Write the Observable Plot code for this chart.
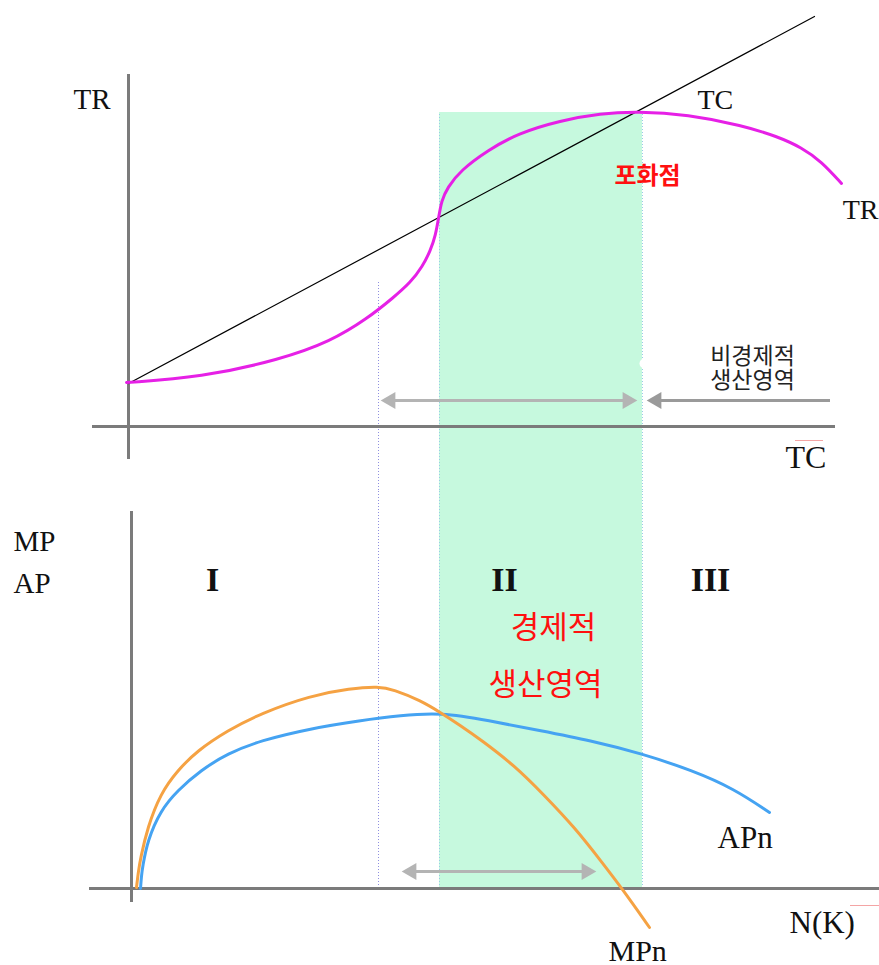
<!DOCTYPE html>
<html><head><meta charset="utf-8">
<script src="https://cdn.jsdelivr.net/npm/d3@7"></script>
<script src="https://cdn.jsdelivr.net/npm/@observablehq/plot@0.6"></script>
<style>body{margin:0;background:#fff}svg{display:block;background:#fff}</style>
</head><body><div id="chart"></div>
<script>
// ---- data (diagram units: N(K) on x; TR/TC or MP/AP on y) ----
const nMpMax = 250;     // MP maximum (dotted line)
const nApMax = 311;     // AP maximum, start of stage II
const nTrMax = 514;     // TR maximum / MP = 0, end of stage II
const tcLine = [[0, 43], [686, 410]];
const trCurve = [[-2,44],[72,49],[152,67],[202,85],[239,108],[265,129],[282,144],[294,160],[302,176],[307,191],[310,208],[313,226],[319,239],[332,256],[359,276],[389,293],[432,306],[472,313],[509,315],[559,312],[614,301],[649,290],[673,279],[693,265],[713,243]];
const mpCurve = [[8,1],[10,18],[12,30],[19,61],[32,95],[49,118],[69,138],[99,158],[132,175],[182,193],[222,200],[250,202],[265,199],[292,188],[312,176],[332,163],[352,149],[386,123],[416,93],[447,60],[472,28],[495,-2],[521,-39]];
const apCurve = [[12,0],[13,13],[14,21],[19,48],[32,78],[49,98],[72,118],[99,135],[132,148],[182,160],[232,168],[272,173],[312,176],[360,168],[411,158],[462,148],[513,135],[564,118],[605,100],[641,76]];
const stageLabels = ["I", "II", "III"];
const stageX = [84, 376, 582];
const topAxisLabels = ["TR", "TC"];
const bottomAxisLabels = ["MP", "AP", "N(K)"];

const serif = "'Liberation Serif', 'Times New Roman', serif";
const kr = "'Noto Sans CJK KR', sans-serif";
const axisColor = "#7b7b7b";
const X = {domain: [-128, 751], range: [0, 879], axis: null};

const line = (data, color, w = 3, curve = "basis") => Plot.line(data, {x: d => d[0], y: d => d[1], stroke: color, strokeWidth: w, curve});
const head = (x, y, dir, color) => Plot.dot([0], {x: x, y: y, dx: dir > 0 ? -9 : 9, symbol: "triangle", r: 6.3, rotate: dir > 0 ? 90 : -90, fill: color, stroke: "none"});

// ---- top panel ----
const topPanel = Plot.plot({
  width: 879, height: 490, margin: 0,
  x: X,
  y: {domain: [-64, 426], range: [490, 0], axis: null},
  marks: [
    Plot.rect([0], {x1: nApMax, x2: nTrMax, y1: -64, y2: 314, fill: "#c6f9de"}),
    Plot.ruleX([nApMax, nTrMax], {y1: -64, y2: 314, stroke: "#9ccbe6", strokeWidth: 1, strokeDasharray: "1,2"}),
    Plot.ruleX([nMpMax], {y1: -64, y2: 144, stroke: "#8f8fe0", strokeWidth: 1, strokeDasharray: "1,2"}),
    Plot.dot([0], {x: 516, y: 63, r: 5, fill: "white"}),
    Plot.ruleX([0], {y1: -33, y2: 352, stroke: axisColor, strokeWidth: 3}),
    Plot.ruleY([0], {x1: -36, x2: 707, stroke: axisColor, strokeWidth: 3}),
    line(tcLine, "black", 1.2, "linear"),
    line(trCurve, "#e620e6", 3),
    // arrows
    Plot.ruleY([26], {x1: 258, x2: 500, stroke: "#b4b4b4", strokeWidth: 3}),
    head(253, 26, -1, "#b4b4b4"), head(508, 26, 1, "#b4b4b4"),
    Plot.ruleY([26], {x1: 528, x2: 702, stroke: "#9a9a9a", strokeWidth: 3}),
    head(519, 26, -1, "#9a9a9a"),
    Plot.ruleY([-14], {x1: 667, x2: 695, stroke: "#f4a5a5", strokeWidth: 1}),
    // labels
    Plot.text([topAxisLabels[0]], {x: -55, y: 318, text: d => d, fontFamily: serif, fontSize: 29, textAnchor: "start", lineAnchor: "bottom", fill: "#111"}),
    Plot.text([topAxisLabels[1]], {x: 569, y: 318, text: d => d, fontFamily: serif, fontSize: 28, textAnchor: "start", lineAnchor: "bottom", fill: "#111"}),
    Plot.text([topAxisLabels[0]], {x: 750, y: 208, text: d => d, fontFamily: serif, fontSize: 28, textAnchor: "end", lineAnchor: "bottom", fill: "#111"}),
    Plot.text([topAxisLabels[1]], {x: 657, y: -41, text: d => d, fontFamily: serif, fontSize: 32, textAnchor: "start", lineAnchor: "bottom", fill: "#111"}),
    Plot.text(["포화점"], {x: 519, y: 250, text: d => d, fontFamily: kr, fontSize: 24, fontWeight: "bold", fill: "#ff1010", lineAnchor: "middle"}),
    Plot.text(["비경제적\n생산영역"], {x: 624, y: 58.5, text: d => d, fontFamily: kr, fontSize: 23, lineHeight: 1.04, fill: "#222", lineAnchor: "middle"})
  ]
});

// ---- bottom panel ----
const bottomPanel = Plot.plot({
  width: 879, height: 475, margin: 0,
  x: X,
  y: {domain: [-77, 398], range: [475, 0], axis: null},
  marks: [
    Plot.rect([0], {x1: nApMax, x2: nTrMax, y1: 0, y2: 398, fill: "#c6f9de"}),
    Plot.ruleX([nApMax, nTrMax], {y1: 0, y2: 398, stroke: "#9ccbe6", strokeWidth: 1, strokeDasharray: "1,2"}),
    Plot.ruleX([nMpMax], {y1: 0, y2: 398, stroke: "#8f8fe0", strokeWidth: 1, strokeDasharray: "1,2"}),
    Plot.ruleX([3], {y1: -14, y2: 377, stroke: axisColor, strokeWidth: 3}),
    Plot.ruleY([0], {x1: -39, x2: 752, stroke: axisColor, strokeWidth: 3}),
    line(apCurve, "#45a3f2", 3),
    line(mpCurve, "#f5a243", 3),
    Plot.ruleY([17], {x1: 279, x2: 460, stroke: "#b4b4b4", strokeWidth: 3}),
    head(274, 17, -1, "#b4b4b4"), head(467, 17, 1, "#b4b4b4"),
    Plot.ruleY([-17], {x1: 722, x2: 752, stroke: "#f4a5a5", strokeWidth: 1}),
    Plot.text([bottomAxisLabels[0]], {x: -115, y: 338, text: d => d, fontFamily: serif, fontSize: 29, textAnchor: "start", lineAnchor: "bottom", fill: "#111"}),
    Plot.text([bottomAxisLabels[1]], {x: -115, y: 296, text: d => d, fontFamily: serif, fontSize: 29, textAnchor: "start", lineAnchor: "bottom", fill: "#111"}),
    Plot.text([bottomAxisLabels[2]], {x: 661, y: -44, text: d => d, fontFamily: serif, fontSize: 31, textAnchor: "start", lineAnchor: "bottom", fill: "#111"}),
    Plot.text(stageLabels, {x: (d, i) => stageX[i], y: 298, text: d => d, fontFamily: serif, fontSize: 34, fontWeight: "bold", lineAnchor: "bottom", fill: "#111"}),
    Plot.text(["APn"], {x: 589, y: 41, text: d => d, fontFamily: serif, fontSize: 31, textAnchor: "start", lineAnchor: "bottom", fill: "#111"}),
    Plot.text(["MPn"], {x: 480, y: -72, text: d => d, fontFamily: serif, fontSize: 30, textAnchor: "start", lineAnchor: "bottom", fill: "#111"}),
    Plot.text(["경제적"], {x: 425, y: 260, text: d => d, fontFamily: kr, fontSize: 31, fill: "#ff1010", lineAnchor: "middle"}),
    Plot.text(["생산영역"], {x: 417, y: 203, text: d => d, fontFamily: kr, fontSize: 31, fill: "#ff1010", lineAnchor: "middle"})
  ]
});

const root = document.getElementById("chart");
root.appendChild(topPanel);
root.appendChild(bottomPanel);
</script>
</body></html>
